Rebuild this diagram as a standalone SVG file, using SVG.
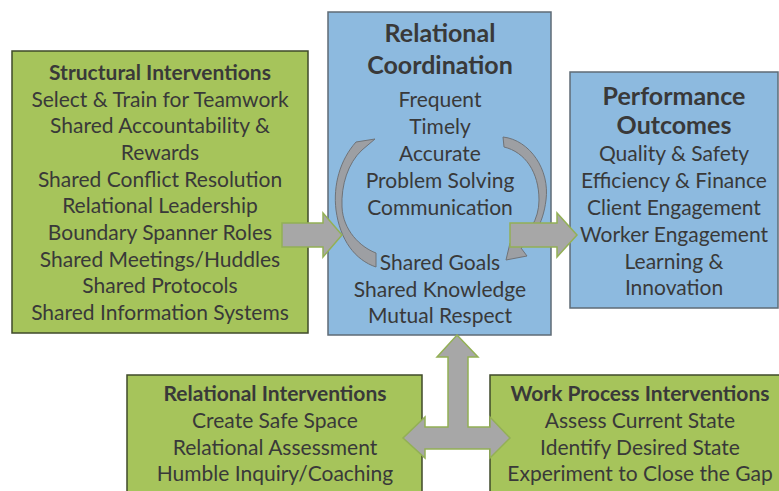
<svg xmlns="http://www.w3.org/2000/svg" width="779" height="491" viewBox="0 0 779 491">
<style>
.green{fill:#a6c45b;stroke:#3f4a2a;stroke-width:1.5}
.blue{fill:#8dbadf;stroke:#5f6b76;stroke-width:1.5}
.arrow{fill:#a7a7a7;stroke:#93b055;stroke-width:1.5;stroke-linejoin:miter}
.arc{fill:#9d9fa3;stroke:#6f7378;stroke-width:1}
text{font-family:Lato,"Liberation Sans",sans-serif;fill:#393939;text-anchor:middle}
.t{font-size:21px}
.h{font-size:21px;font-weight:bold}
.hb{font-size:25px;font-weight:bold}
</style>
<rect width="779" height="491" fill="#ffffff"/>
<g id="structural">
<rect class="green" x="12" y="51" width="296" height="282"/>
<text class="h" x="160" y="80">Structural Interventions</text>
<text class="t" x="160" y="107">Select &amp; Train for Teamwork</text>
<text class="t" x="160" y="133">Shared Accountability &amp;</text>
<text class="t" x="160" y="160">Rewards</text>
<text class="t" x="160" y="187">Shared Conflict Resolution</text>
<text class="t" x="160" y="213">Relational Leadership</text>
<text class="t" x="160" y="240">Boundary Spanner Roles</text>
<text class="t" x="160" y="267">Shared Meetings/Huddles</text>
<text class="t" x="160" y="293">Shared Protocols</text>
<text class="t" x="160" y="320">Shared Information Systems</text>
</g>
<g id="relational-coordination">
<rect class="blue" x="328" y="12" width="223" height="323"/>
<text class="hb" x="440" y="42">Relational</text>
<text class="hb" x="440" y="74">Coordination</text>
<text class="t" x="440" y="107">Frequent</text>
<text class="t" x="440" y="134">Timely</text>
<text class="t" x="440" y="161">Accurate</text>
<text class="t" x="440" y="188">Problem Solving</text>
<text class="t" x="440" y="215">Communication</text>
<text class="t" x="440" y="270">Shared Goals</text>
<text class="t" x="440" y="297">Shared Knowledge</text>
<text class="t" x="440" y="323">Mutual Respect</text>
<path class="arc" d="M375 139 L356 142 C340 160 333 185 336 210 C340 240 355 260 376 267 L376 253 C360 247 343 230 342 207 C341 185 348 163 362 150 Z"/>
<path class="arc" d="M503 137 C530 140 550 170 546 200 C543 225 532 240 521 248 L527 256 L506 260 L510 243 L515 245 C528 235 539 220 539 200 C539 172 525 152 504 147 Z"/>
</g>
<g id="performance">
<rect class="blue" x="570" y="72" width="208" height="236"/>
<text class="hb" x="674" y="105">Performance</text>
<text class="hb" x="674" y="134">Outcomes</text>
<text class="t" x="674" y="161">Quality &amp; Safety</text>
<text class="t" x="674" y="188">Efficiency &amp; Finance</text>
<text class="t" x="674" y="215">Client Engagement</text>
<text class="t" x="674" y="242">Worker Engagement</text>
<text class="t" x="674" y="269">Learning &amp;</text>
<text class="t" x="674" y="295">Innovation</text>
</g>
<g id="relational-interventions">
<rect class="green" x="127" y="375" width="295" height="130"/>
<text class="h" x="275" y="401">Relational Interventions</text>
<text class="t" x="275" y="428">Create Safe Space</text>
<text class="t" x="275" y="455">Relational Assessment</text>
<text class="t" x="275" y="481">Humble Inquiry/Coaching</text>
</g>
<g id="work-process">
<rect class="green" x="490" y="375" width="300" height="130"/>
<text class="h" x="640" y="401">Work Process Interventions</text>
<text class="t" x="640" y="428">Assess Current State</text>
<text class="t" x="640" y="455">Identify Desired State</text>
<text class="t" x="640" y="481">Experiment to Close the Gap</text>
</g>
<g id="connectors">
<polygon class="arrow" points="282,223 323,223 323,213 342,235 323,257 323,247 282,247"/>
<polygon class="arrow" points="510,223 557,223 557,213 577,235 557,257 557,247 510,247"/>
<polygon class="arrow" points="457,335 478,357 468,357 468,427 490,427 490,417 510,438 490,458 490,449 425,449 425,458 403,438 425,417 425,427 448,427 448,357 437,357"/>
</g>
</svg>
